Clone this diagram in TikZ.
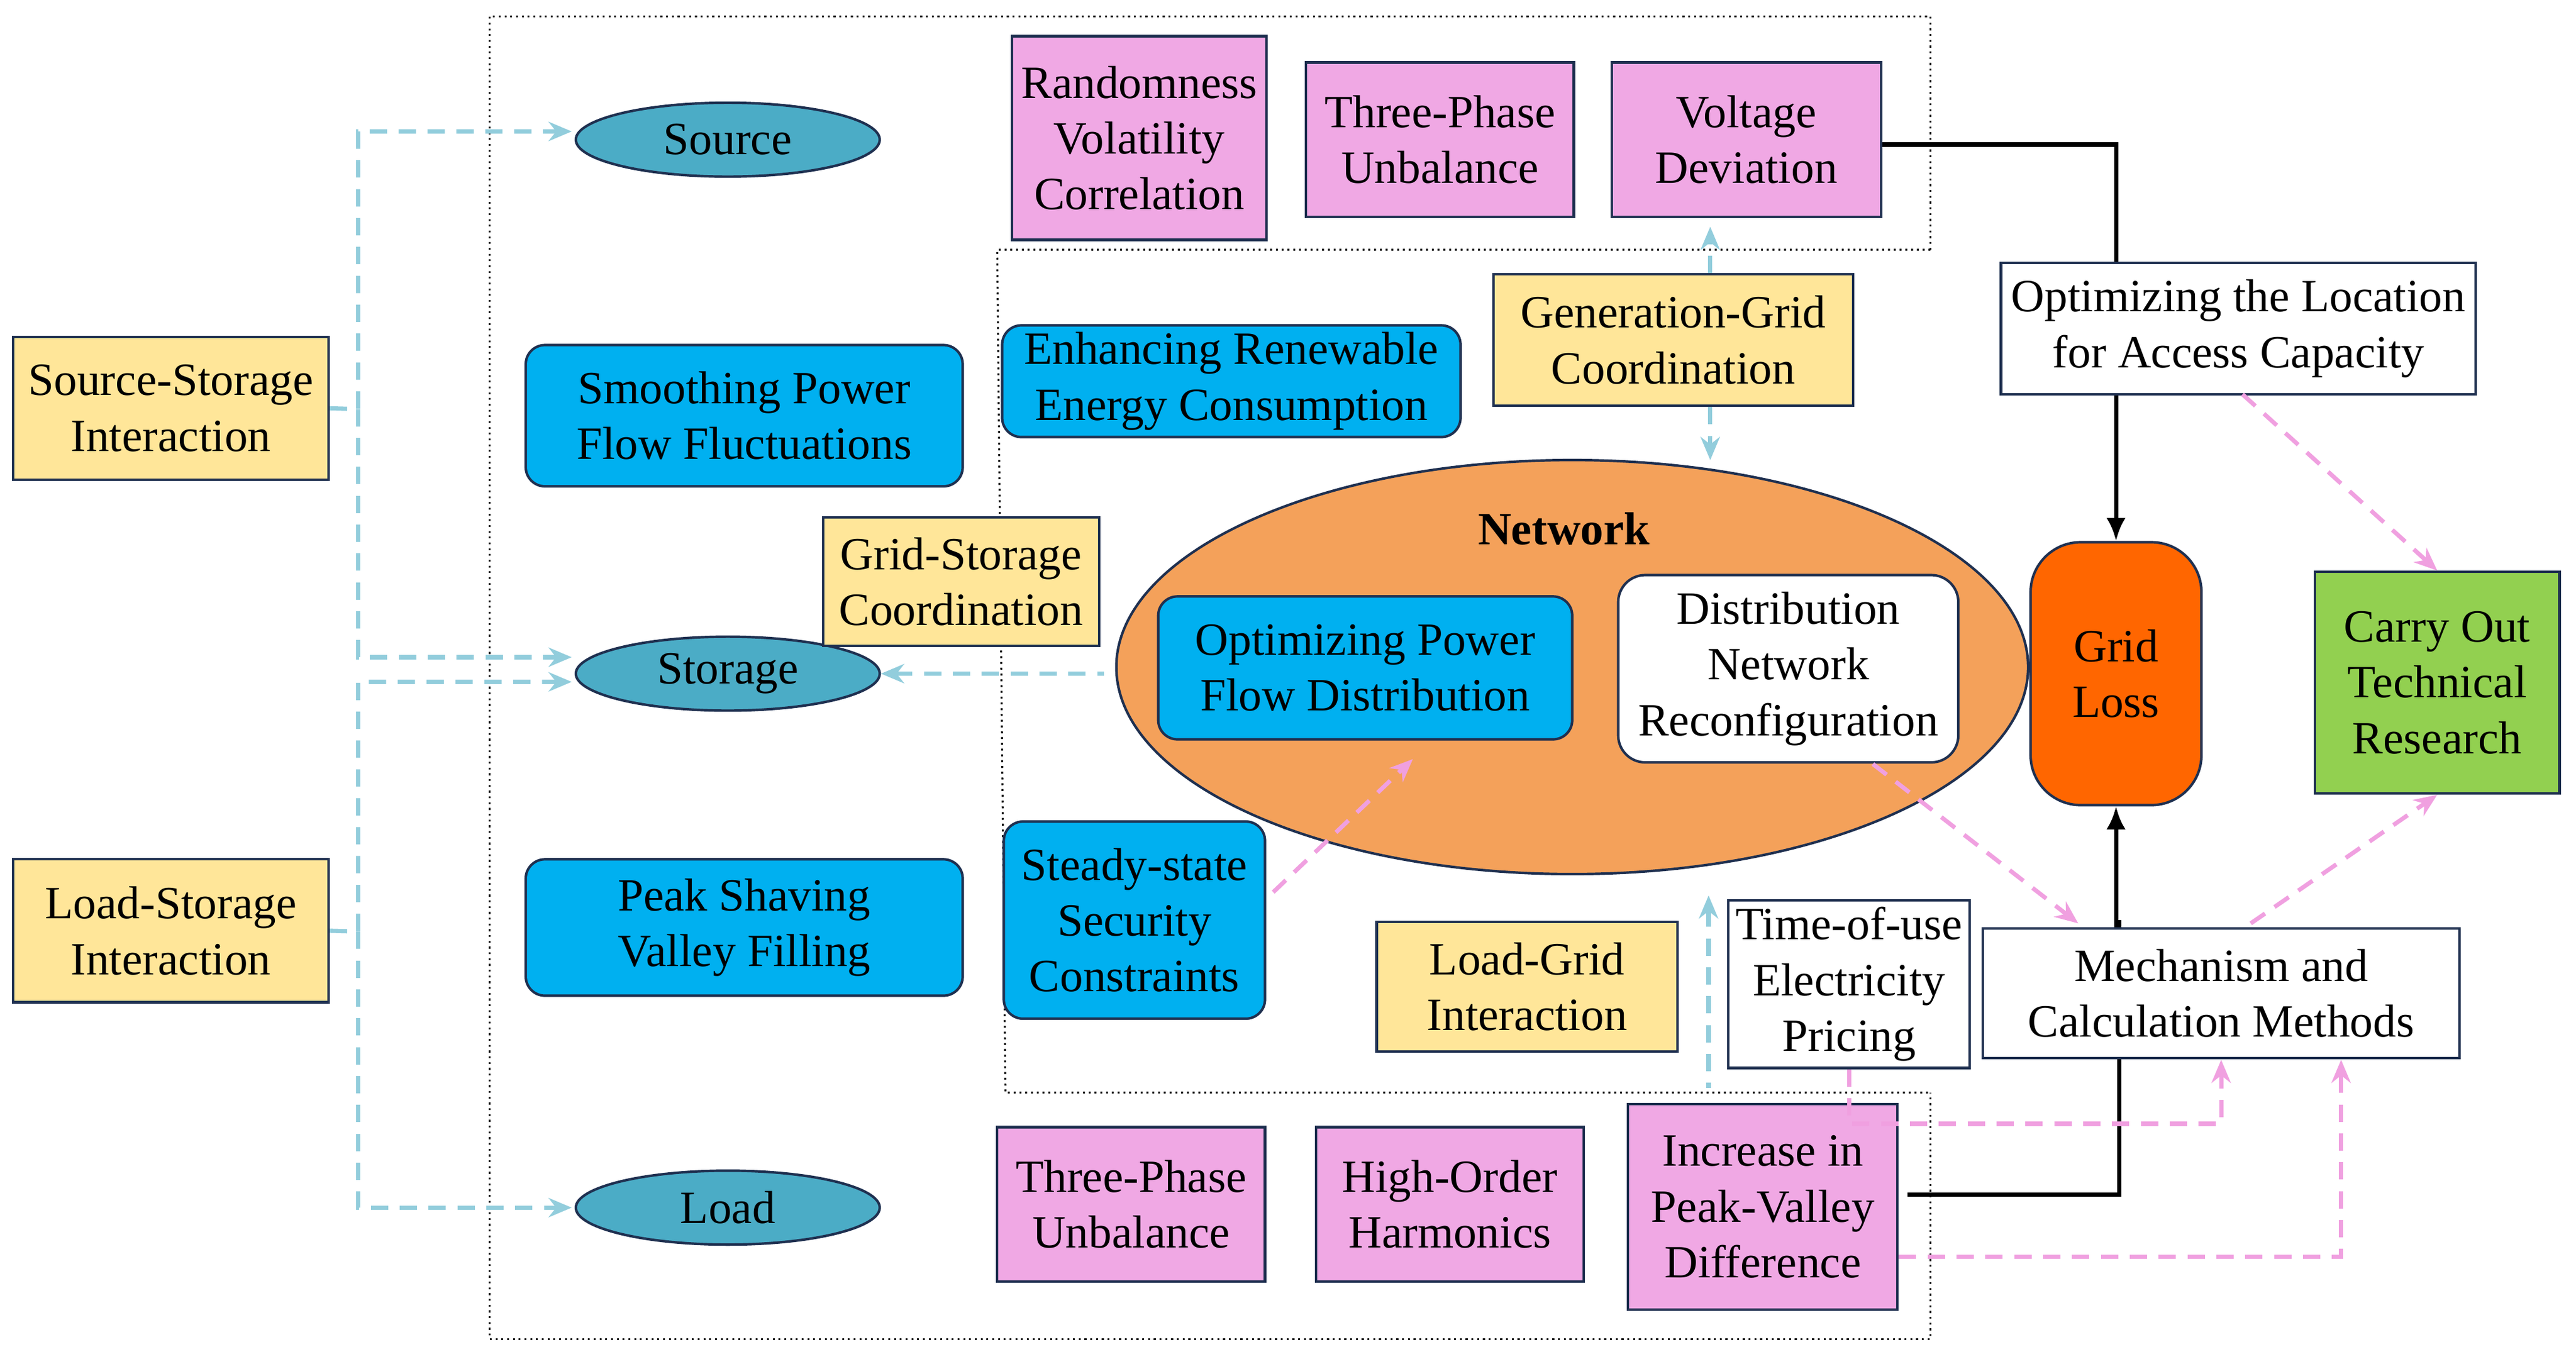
\documentclass[tikz,border=0pt]{standalone}
\usepackage{fontspec}
\setmainfont{Liberation Serif}
\usetikzlibrary{arrows.meta,shapes.geometric}
\definecolor{teal}{HTML}{4BACC6}
\definecolor{sky}{HTML}{00B0F0}
\definecolor{sand}{HTML}{FFE699}
\definecolor{rose}{HTML}{F0A8E4}
\definecolor{peach}{HTML}{F4A15A}
\definecolor{flame}{HTML}{FF6600}
\definecolor{leaf}{HTML}{92D050}
\definecolor{ice}{HTML}{92CDDC}
\definecolor{pinkline}{HTML}{F0A0E0}
\definecolor{edge}{HTML}{1F3050}
\newcommand\bx[7]{\node[#2, minimum width={(#5-#3)*0.03cm}, minimum height={(#6-#4)*0.03cm}] (#1) at ({(#3+#5)/2},{(#4+#6)/2}) {#7};}
\begin{document}
\begin{tikzpicture}[x=0.03cm,y=-0.03cm,
  every node/.style={inner sep=0pt,align=center,font=\fontsize{24}{29}\selectfont},
  box/.style={draw=edge,line width=1.3pt,rectangle},
  yel/.style={box,fill=sand},
  pnk/.style={box,fill=rose},
  wht/.style={box,fill=white},
  blu/.style={box,fill=sky,rounded corners=10pt},
  oval/.style={draw=edge,line width=1.3pt,ellipse,fill=teal},
  icy/.style={draw=ice,line width=2.2pt,dashed,dash pattern=on 9pt off 6pt},
  pnkd/.style={draw=pinkline,line width=2.2pt,dash pattern=on 9pt off 6pt},
  blk/.style={draw=black,line width=2.2pt}]
\useasboundingbox (0,0) rectangle (1568,830);
% frames
\draw[dotted,line width=1pt] (1175,152) -- (1175,10) -- (298,10) -- (298,815) -- (1175,815) -- (1175,665);
\draw[dotted,line width=1pt] (1175,152) -- (607,152) -- (612,665) -- (1175,665);
% network
\node[ellipse,draw=edge,line width=1.3pt,fill=peach,minimum width=555*0.03cm,minimum height=252*0.03cm] (net) at (957,406) {};
\node[font=\fontsize{24}{29}\selectfont\bfseries] (netl) at (952,322) {Network};
% ovals
\node[oval,minimum width=185*0.03cm,minimum height=45*0.03cm] (src) at (443,85) {Source};
\node[oval,minimum width=185*0.03cm,minimum height=45*0.03cm] (sto) at (443,410) {Storage};
\node[oval,minimum width=185*0.03cm,minimum height=45*0.03cm] (lod) at (443,735) {Load};
% black lines behind boxes
\coordinate (vb) at (1288,88);
\coordinate (lb) at (1290,727);
\bx{ssi}{yel}{8}{205}{200}{292}{Source-Storage\\Interaction}
\bx{lsi}{yel}{8}{523}{200}{610}{Load-Storage\\Interaction}
\bx{smo}{blu}{320}{210}{586}{296}{Smoothing Power\\Flow Fluctuations}
\bx{pea}{blu}{320}{523}{586}{606}{Peak Shaving\\Valley Filling}
\bx{gsc}{yel}{501}{315}{669}{393}{Grid-Storage\\Coordination}
\bx{rvc}{pnk}{616}{22}{771}{146}{Randomness\\Volatility\\Correlation}
\bx{tpu}{pnk}{795}{38}{958}{132}{Three-Phase\\Unbalance}
\bx{vde}{pnk}{981}{38}{1145}{132}{Voltage\\Deviation}
\bx{ere}{blu}{610}{198}{889}{266}{Enhancing Renewable\\Energy Consumption}
\bx{ggc}{yel}{909}{167}{1128}{247}{Generation-Grid\\Coordination}
\bx{opf}{blu}{705}{363}{957}{450}{Optimizing Power\\Flow Distribution}
\bx{dnr}{wht,rounded corners=14pt}{985}{350}{1192}{464}{Distribution\\Network\\Reconfiguration}
\draw[blk] (vde.east|-vb) -- (vb) -- (1288,250);
\draw[blk] (1161,727) -- (lb) -- (1290,560);
\bx{olc}{wht}{1218}{160}{1507}{240}{Optimizing the Location\\for Access Capacity}
\bx{mcm}{wht}{1207}{565}{1497}{644}{Mechanism and\\Calculation Methods}
\bx{glo}{box,fill=flame,rounded corners=26pt}{1236}{330}{1340}{490}{Grid\\Loss}
\draw[blk,-{Latex[length=12pt,width=10pt]}] (olc.south-|glo) -- (glo.north);
\draw[blk,-{Latex[length=12pt,width=10pt]}] (mcm.north-|glo) -- (glo.south);
\bx{cot}{box,fill=leaf}{1409}{348}{1558}{483}{Carry Out\\Technical\\Research}
\bx{ssc}{blu}{611}{500}{770}{620}{Steady-state\\Security\\Constraints}
\bx{lgi}{yel}{838}{561}{1021}{640}{Load-Grid\\Interaction}
\bx{tou}{wht}{1052}{548}{1199}{650}{Time-of-use\\Electricity\\Pricing}
\bx{tp2}{pnk}{607}{686}{770}{780}{Three-Phase\\Unbalance}
\bx{hoh}{pnk}{801}{686}{964}{780}{High-Order\\Harmonics}
\bx{ipv}{pnk}{991}{672}{1155}{797}{Increase in\\Peak-Valley\\Difference}
% light blue dashed
\begin{scope}[icy,-{Stealth[length=12pt,width=10pt]}]
\draw (ssi.east) -- (218,249) |- (348,80);
\draw (218,249) |- (348,400);
\draw (lsi.east) -- (218,567) |- (348,415);
\draw (218,567) |- (348,735);
\draw[{Stealth[length=12pt,width=10pt]}-] (sto.east) -- (672,410);
\draw (ggc.north-|1041,0) -- (1041,138);
\draw (ggc.south-|1041,0) -- (1041,280);
\draw[{Stealth[length=12pt,width=10pt]}-] (1040,545) -- (1040,662);
\end{scope}
% pink dashed
\begin{scope}[pnkd,-{Stealth[length=12pt,width=10pt]}]
\draw (775,543) -- (860,462);
\draw (1140,465) -- (1265,562);
\draw (1370,562) -- (cot.south);
\draw (1365,240) -- (cot.north);
\draw (tou.south) |- (1352,684) -- (1352,645);
\draw (ipv.east|-0,765) -- (1425,765) -- (1425,645);
\end{scope}
\end{tikzpicture}
\end{document}
